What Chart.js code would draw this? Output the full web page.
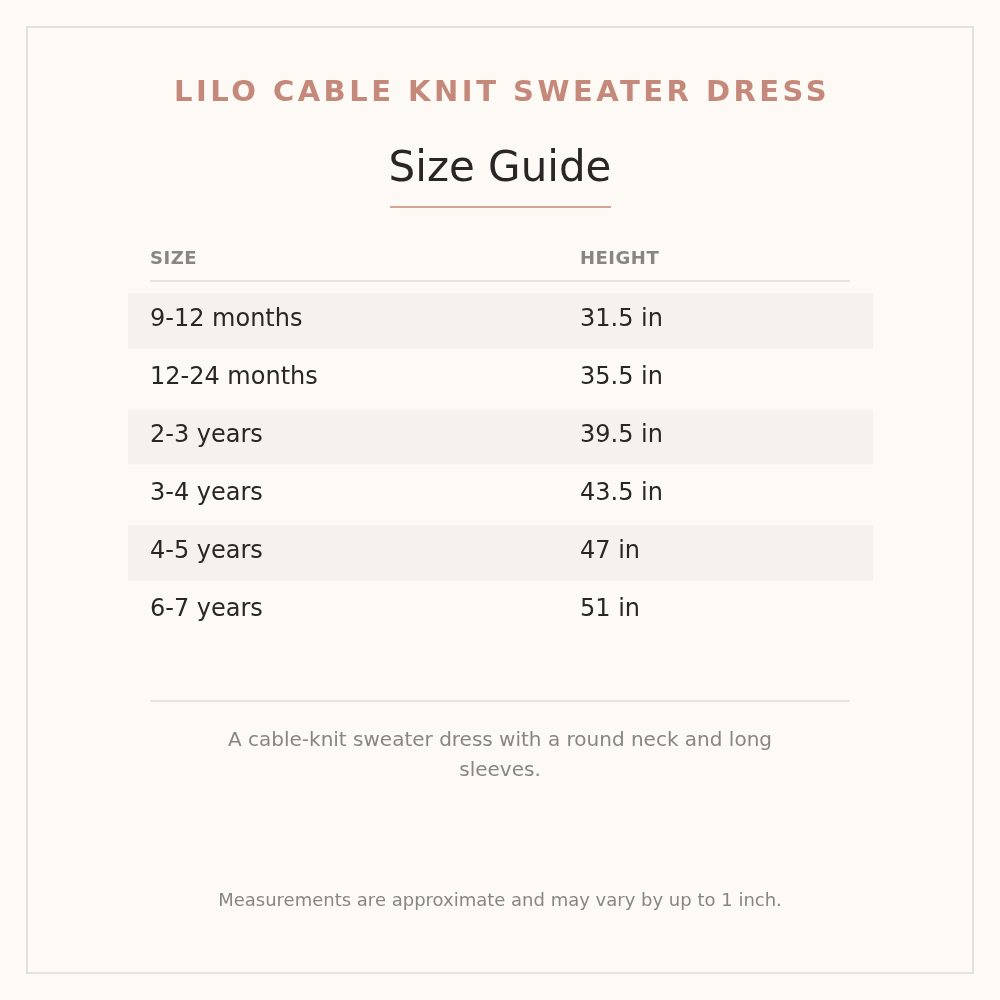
<!DOCTYPE html>
<html><head><meta charset="utf-8">
<script src="https://cdn.jsdelivr.net/npm/chart.js@4"></script>
<style>html,body{margin:0;background:#fdf9f5}#w{width:1000px;height:1000px}</style>
</head><body><div id="w"><canvas id="c"></canvas></div>
<script>
const sizes = ["9-12 months","12-24 months","2-3 years","3-4 years","4-5 years","6-7 years"];
const heights = ["31.5 in","35.5 in","39.5 in","43.5 in","47 in","51 in"];
const headers = ["SIZE","HEIGHT"];
const title = "LILO CABLE KNIT SWEATER DRESS";
const subtitle = "Size Guide";
const descLines = ["A cable-knit sweater dress with a round neck and long","sleeves."];
const note = "Measurements are approximate and may vary by up to 1 inch.";
const F = "'DejaVu Sans', sans-serif";

const stripes = sizes.map((s,i)=> i%2===0 ? [0,1] : null);

const deco = {
  id:'deco',
  beforeDraw(ch){
    const c=ch.ctx; c.save();
    c.fillStyle='#fdf9f5'; c.fillRect(0,0,1000,1000);
    c.strokeStyle='#dcd8d2'; c.lineWidth=1.5; c.strokeRect(27,27,946,946);
    c.restore();
  },
  afterDraw(ch){
    const c=ch.ctx, y=ch.scales.y, x=ch.scales.x; c.save();
    c.textBaseline='middle'; c.textAlign='center';
    c.fillStyle='#c4897a'; c.font='bold 29px '+F; c.letterSpacing='3.5px';
    c.fillText(title,502,93); c.letterSpacing='0px';
    c.fillStyle='#2a2624'; c.font='42px '+F; c.fillText(subtitle,500,170);
    c.strokeStyle='#c4897a'; c.lineWidth=1.5; c.beginPath(); c.moveTo(390,207); c.lineTo(611,207); c.stroke();
    c.textAlign='left'; c.fillStyle='#8a8580'; c.font='bold 18px '+F; c.letterSpacing='0.5px';
    c.fillText(headers[0],150,259); c.fillText(headers[1],580,259); c.letterSpacing='0px';
    c.strokeStyle='#e0dbd5'; c.lineWidth=1.5;
    c.beginPath(); c.moveTo(150,281); c.lineTo(850,281); c.stroke();
    c.beginPath(); c.moveTo(150,701); c.lineTo(850,701); c.stroke();
    c.fillStyle='#2a2624'; c.font='24px '+F;
    sizes.forEach((s,i)=>{const py=y.getPixelForValue(i)-1;
      c.fillText(s,150,py); c.fillText(heights[i],580,py);});
    c.textAlign='center'; c.fillStyle='#8a8580'; c.font='20px '+F;
    descLines.forEach((l,i)=>c.fillText(l,500,741+i*30));
    c.font='18px '+F; c.fillText(note,500,901);
    c.restore();
  }
};

new Chart(document.getElementById('c'),{
  type:'bar',
  data:{labels:sizes,datasets:[{data:stripes,backgroundColor:'#f5f1ec',borderWidth:0,barPercentage:0.95,categoryPercentage:1}]},
  options:{indexAxis:'y',responsive:true,maintainAspectRatio:false,animation:false,
    layout:{padding:{top:292,bottom:360,left:128,right:127}},
    plugins:{legend:{display:false},tooltip:{enabled:false}},
    scales:{x:{type:'linear',min:0,max:1,display:false},y:{type:'category',display:false}}},
  plugins:[deco]
});
</script></body></html>
